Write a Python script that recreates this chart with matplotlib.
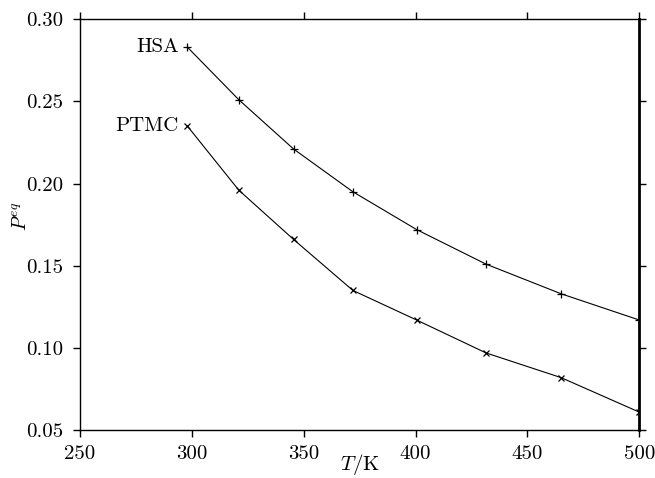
import matplotlib
matplotlib.use("Agg")
import matplotlib.pyplot as plt

plt.rcParams['font.family'] = 'cmr10'
plt.rcParams['mathtext.fontset'] = 'cm'
plt.rcParams['axes.formatter.use_mathtext'] = True

# data
T = [298, 321, 345.5, 372, 400.5, 431.5, 465, 500]
hsa = [0.283, 0.251, 0.221, 0.195, 0.172, 0.151, 0.133, 0.117]
ptmc = [0.235, 0.196, 0.166, 0.135, 0.117, 0.097, 0.082, 0.061]
names = ['HSA', 'PTMC']

xticks = [250, 300, 350, 400, 450, 500]
yticks = [0.05, 0.10, 0.15, 0.20, 0.25, 0.30]

fig = plt.figure(figsize=(6.55, 4.78), dpi=100)
ax = fig.add_axes([0.122, 0.100, 0.854, 0.860])

ax.plot(T, hsa, color='black', lw=0.8, marker='+', ms=6, mew=0.9)
ax.plot(T, ptmc, color='black', lw=0.8, marker='x', ms=5, mew=0.9)

for name, series in zip(names, [hsa, ptmc]):
    ax.annotate(name, (T[0], series[0]), xytext=(-6, 0), textcoords='offset points',
                ha='right', va='center', fontsize=15)

ax.set_xlim(250, 500)
ax.set_ylim(0.05, 0.30)
ax.set_xticks(xticks)
ax.set_yticks(yticks)
ax.set_xticklabels([str(v) for v in xticks])
ax.set_yticklabels(['%.2f' % v for v in yticks])

ax.tick_params(direction='out', length=5, width=1, labelsize=15)
ax.tick_params(axis='y', pad=7)
ax.tick_params(axis='x', pad=6)
ax.tick_params(top=True, right=True, labeltop=False, labelright=False)

for s in ['left', 'bottom', 'top']:
    ax.spines[s].set_linewidth(1.0)
ax.spines['right'].set_linewidth(2.0)

ax.set_xlabel(r'$T/\mathrm{K}$', fontsize=15, labelpad=-8)
ax.set_ylabel(r'$P^{eq}$', fontsize=14)
ax.yaxis.set_label_coords(-0.09, 0.52)

fig.savefig('out.png', dpi=100)
